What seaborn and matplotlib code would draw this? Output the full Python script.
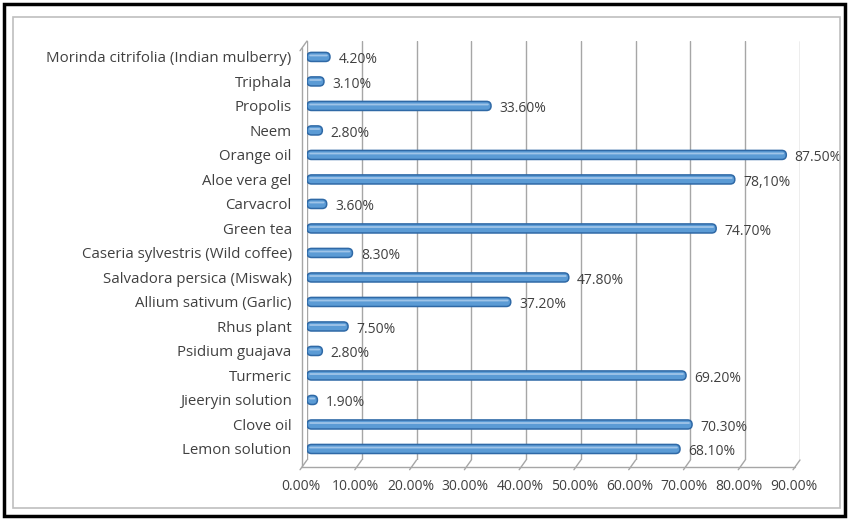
import numpy as np
import pandas as pd
import seaborn as sns
import matplotlib.pyplot as plt
from matplotlib.patches import FancyBboxPatch, Rectangle
from matplotlib.transforms import ScaledTranslation

# data, top to bottom as in the chart
remedies = ['Morinda citrifolia (Indian mulberry)', 'Triphala', 'Propolis', 'Neem',
            'Orange oil', 'Aloe vera gel', 'Carvacrol', 'Green tea',
            'Caseria sylvestris (Wild coffee)', 'Salvadora persica (Miswak)',
            'Allium sativum (Garlic)', 'Rhus plant', 'Psidium guajava', 'Turmeric',
            'Jieeryin solution', 'Clove oil', 'Lemon solution']
percent = [4.2, 3.1, 33.6, 2.8, 87.5, 78.1, 3.6, 74.7, 8.3, 47.8, 37.2, 7.5, 2.8,
           69.2, 1.9, 70.3, 68.1]
value_labels = ['4.20%', '3.10%', '33.60%', '2.80%', '87.50%', '78,10%', '3.60%',
                '74.70%', '8.30%', '47.80%', '37.20%', '7.50%', '2.80%', '69.20%',
                '1.90%', '70.30%', '68.10%']
xticks = [0, 10, 20, 30, 40, 50, 60, 70, 80, 90]

df = pd.DataFrame({'remedy': remedies, 'pct': percent})

sns.set_style('white')
plt.rcParams['font.family'] = ['Open Sans', 'DejaVu Sans']
txt_col = '#404040'
grid_col = '#a6a6a6'
fs = 10

fig = plt.figure(figsize=(8.5, 5.2), dpi=100)
ax = fig.add_axes([307 / 850, 1 - 460 / 520, (800 - 307) / 850, (460 - 41) / 520])

sns.barplot(data=df, x='pct', y='remedy', orient='h', color='#5b9bd5', width=0.37, ax=ax)

ax.set_xlim(0, 90)
ax.set_ylim(16.45, -0.65)
ax.set_xticks(xticks)
ax.set_xticklabels(['%.2f%%' % t for t in xticks])
ax.set_xlabel('')
ax.set_ylabel('')
for s in ax.spines.values():
    s.set_visible(False)
ax.tick_params(axis='both', length=0, colors=txt_col, labelsize=fs)
ax.tick_params(axis='y', labelsize=10.8, pad=11)
ax.tick_params(axis='x', pad=14)
# x labels sit on the front edge of the floor
for lab in ax.get_xticklabels():
    lab.set_transform(lab.get_transform() + ScaledTranslation(-6 / 100, 0, fig.dpi_scale_trans))

# back wall grid
for t in xticks:
    ax.plot([t, t], [16.45, -0.65], color=grid_col, lw=1, zorder=0)

# 3d wall and floor edges
front = ax.transData + ScaledTranslation(-5 / 100, -7 / 100, fig.dpi_scale_trans)
ax.plot([0, 90], [16.45, 16.45], color=grid_col, lw=1, transform=front, clip_on=False)
ax.plot([0, 0], [16.45, -0.65], color=grid_col, lw=1, transform=front, clip_on=False)
for t in xticks:
    ax.annotate('', xy=(t, 16.45), xytext=(-5, -7), textcoords='offset points',
                arrowprops=dict(arrowstyle='-', color=grid_col, lw=1, shrinkA=0, shrinkB=0),
                annotation_clip=False)
ax.annotate('', xy=(0, -0.65), xytext=(-5, -7), textcoords='offset points',
            arrowprops=dict(arrowstyle='-', color=grid_col, lw=1, shrinkA=0, shrinkB=0),
            annotation_clip=False)

# swap the flat bars for rounded "cylinders"
fig.canvas.draw()
x0, y0 = ax.transData.transform((0, 0))
x1, y1 = ax.transData.transform((1, 1))
aspect = abs(1 / (y1 - y0)) / abs(1 / (x1 - x0))
for p in list(ax.patches):
    x, y, w, h = p.get_x(), p.get_y(), p.get_width(), p.get_height()
    r = h / 2 / aspect
    body = FancyBboxPatch((x, y), max(w, 0.01), h,
                          boxstyle='round,pad=0,rounding_size=%.3f' % min(r, w / 2 + 0.4),
                          mutation_aspect=aspect, facecolor='#5b9bd5',
                          edgecolor='#2f69a6', lw=1.1, zorder=3)
    ax.add_patch(body)
    shine = FancyBboxPatch((x + 0.4, y + h * 0.24), max(w - 0.8, 0.01), h * 0.2,
                           boxstyle='round,pad=0,rounding_size=0.2', mutation_aspect=aspect,
                           facecolor='#9fc4e8', edgecolor='none', zorder=4)
    ax.add_patch(shine)
    p.remove()

for i, (v, lab) in enumerate(zip(percent, value_labels)):
    ax.annotate(lab, xy=(v, i), xytext=(6, -2), textcoords='offset points',
                ha='left', va='center', fontsize=fs, color=txt_col, zorder=5)

# chart area border and outer frame
fig.patches.append(Rectangle((13 / 850, 1 - 508 / 520), 827 / 850, 491 / 520,
                             transform=fig.transFigure, fill=False, ec='#bfbfbf', lw=1.2))
fig.patches.append(Rectangle((4 / 850, 1 - 516 / 520), 841 / 850, 512 / 520,
                             transform=fig.transFigure, fill=False, ec='black', lw=2.5))

fig.savefig('out.png', dpi=100)
